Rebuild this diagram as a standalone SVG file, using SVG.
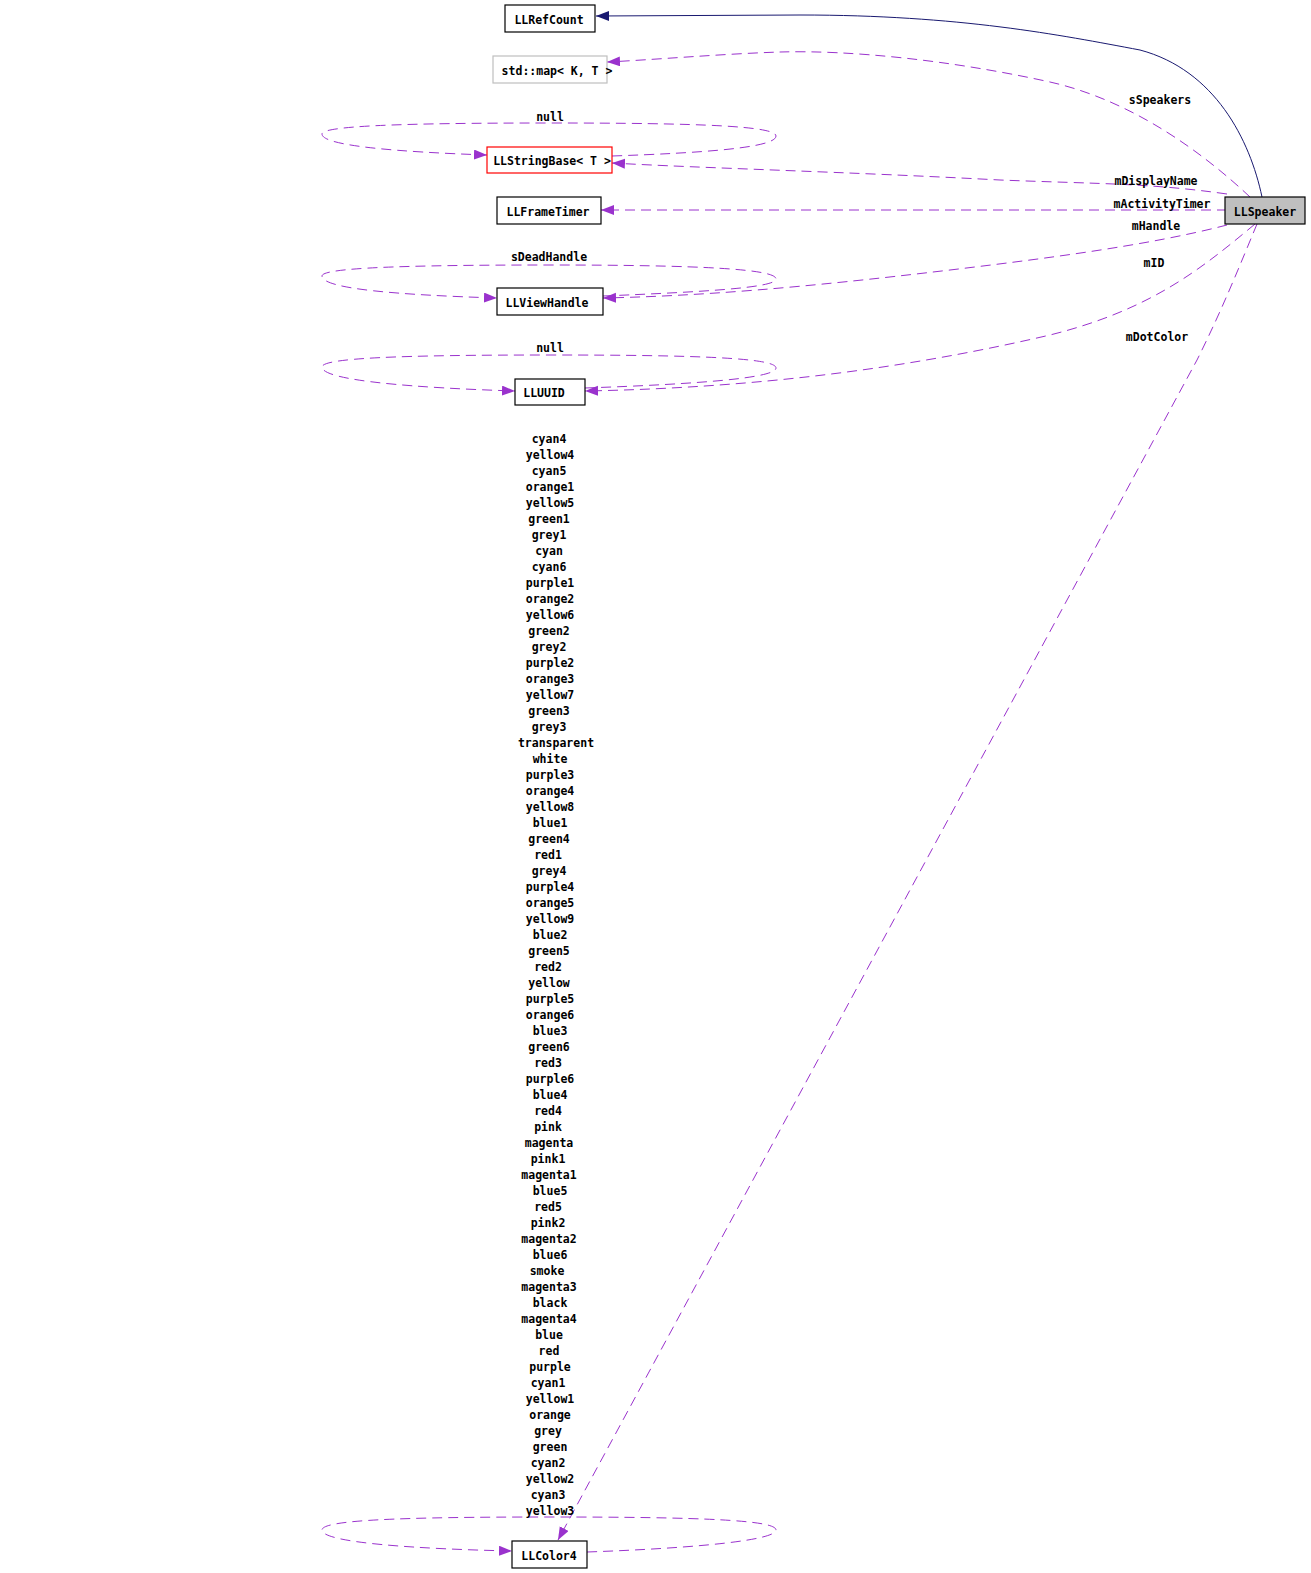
<svg xmlns="http://www.w3.org/2000/svg" width="1311" height="1573" viewBox="0 0 1311 1573">
<style>
text{font-family:"DejaVu Sans Mono","Liberation Mono",monospace;font-weight:bold;font-size:11.5px;fill:#000;text-anchor:middle}
.node rect{fill:#fff;stroke:#000;stroke-width:1.2}
.e{fill:none;stroke:#9a32cd;stroke-width:1;stroke-dasharray:10,6;marker-end:url(#ap)}
.s{fill:none;stroke:#191970;stroke-width:1;marker-end:url(#an)}
</style>
<defs>
<marker id="ap" markerUnits="userSpaceOnUse" markerWidth="14" markerHeight="11" refX="13" refY="5" orient="auto"><path d="M0,0 L13,5 L0,10 z" fill="#9a32cd"/></marker>
<marker id="an" markerUnits="userSpaceOnUse" markerWidth="14" markerHeight="11" refX="13" refY="5" orient="auto"><path d="M0,0 L13,5 L0,10 z" fill="#191970"/></marker>
</defs>
<rect width="1311" height="1573" fill="#fff"/>
<g id="edges">
<path class="s" d="M1262,197 C1250,140 1215,70 1140,50 C1060,35 960,15 800,15 L596,16"/>
<path class="e" d="M1250,197 C1200,150 1130,100 1050,82 C950,60 850,50 780,52 C720,54 650,60 607,62"/>
<path class="e" d="M1227,194 C1150,183 1100,184 1000,180 C850,172 700,168 612,163"/>
<path class="e" d="M1227,210 L601,210"/>
<path class="e" d="M1227,225 C1150,245 1050,258 950,270 C800,288 700,296 603,298"/>
<path class="e" d="M1255,224 C1200,270 1150,310 1050,335 C900,370 750,388 585,391"/>
<path class="e" d="M1257,224 C1240,265 1222,310 1197,360 L558,1540"/>
<path class="e" d="M612,156 C700,153 776,148 776,136 C776,126 700,123 550,123 C400,123 322,126 322,134 C322,146 400,152 487,155"/>
<path class="e" d="M603,296 C700,292 776,288 776,279 C776,269 700,265 550,265 C400,265 322,268 322,276 C322,289 400,295 497,298"/>
<path class="e" d="M585,388 C700,384 776,378 776,368 C776,358 700,355 550,355 C400,355 322,358 322,367 C322,381 420,388 515,391"/>
<path class="e" d="M587,1552 C700,1548 776,1540 776,1530 C776,1520 700,1517 550,1517 C400,1517 322,1520 322,1530 C322,1543 420,1549 512,1551"/>
<text x="1160" y="104">sSpeakers</text>
<text x="1156" y="185">mDisplayName</text>
<text x="1162" y="208">mActivityTimer</text>
<text x="1156" y="230">mHandle</text>
<text x="1154" y="267">mID</text>
<text x="1157" y="341">mDotColor</text>
<text x="550" y="121">null</text>
<text x="549" y="261">sDeadHandle</text>
<text x="550" y="352">null</text>
<g id="colors">
<text x="549" y="443">cyan4</text>
<text x="550" y="459">yellow4</text>
<text x="549" y="475">cyan5</text>
<text x="550" y="491">orange1</text>
<text x="550" y="507">yellow5</text>
<text x="549" y="523">green1</text>
<text x="549" y="539">grey1</text>
<text x="549" y="555">cyan</text>
<text x="549" y="571">cyan6</text>
<text x="550" y="587">purple1</text>
<text x="550" y="603">orange2</text>
<text x="550" y="619">yellow6</text>
<text x="549" y="635">green2</text>
<text x="549" y="651">grey2</text>
<text x="550" y="667">purple2</text>
<text x="550" y="683">orange3</text>
<text x="550" y="699">yellow7</text>
<text x="549" y="715">green3</text>
<text x="549" y="731">grey3</text>
<text x="556" y="747">transparent</text>
<text x="550" y="763">white</text>
<text x="550" y="779">purple3</text>
<text x="550" y="795">orange4</text>
<text x="550" y="811">yellow8</text>
<text x="550" y="827">blue1</text>
<text x="549" y="843">green4</text>
<text x="548" y="859">red1</text>
<text x="549" y="875">grey4</text>
<text x="550" y="891">purple4</text>
<text x="550" y="907">orange5</text>
<text x="550" y="923">yellow9</text>
<text x="550" y="939">blue2</text>
<text x="549" y="955">green5</text>
<text x="548" y="971">red2</text>
<text x="549" y="987">yellow</text>
<text x="550" y="1003">purple5</text>
<text x="550" y="1019">orange6</text>
<text x="550" y="1035">blue3</text>
<text x="549" y="1051">green6</text>
<text x="548" y="1067">red3</text>
<text x="550" y="1083">purple6</text>
<text x="550" y="1099">blue4</text>
<text x="548" y="1115">red4</text>
<text x="548" y="1131">pink</text>
<text x="549" y="1147">magenta</text>
<text x="548" y="1163">pink1</text>
<text x="549" y="1179">magenta1</text>
<text x="550" y="1195">blue5</text>
<text x="548" y="1211">red5</text>
<text x="548" y="1227">pink2</text>
<text x="549" y="1243">magenta2</text>
<text x="550" y="1259">blue6</text>
<text x="547" y="1275">smoke</text>
<text x="549" y="1291">magenta3</text>
<text x="550" y="1307">black</text>
<text x="549" y="1323">magenta4</text>
<text x="549" y="1339">blue</text>
<text x="549" y="1355">red</text>
<text x="550" y="1371">purple</text>
<text x="548" y="1387">cyan1</text>
<text x="550" y="1403">yellow1</text>
<text x="550" y="1419">orange</text>
<text x="548" y="1435">grey</text>
<text x="550" y="1451">green</text>
<text x="548" y="1467">cyan2</text>
<text x="550" y="1483">yellow2</text>
<text x="548" y="1499">cyan3</text>
<text x="550" y="1515">yellow3</text>
</g>
</g>
<g id="LLSpeaker" class="node"><rect x="1225" y="197" width="80" height="27" style="fill:#bfbfbf"/><text x="1265" y="216">LLSpeaker</text></g>
<g id="LLRefCount" class="node"><rect x="505" y="5" width="90" height="27"/><text x="549" y="24">LLRefCount</text></g>
<g id="stdmap" class="node"><rect x="493" y="56" width="114" height="27" style="stroke:#bfbfbf"/><text x="557" y="75">std::map&lt; K, T &gt;</text></g>
<g id="LLStringBase" class="node"><rect x="487" y="147" width="125" height="26" style="stroke:#ff0000"/><text x="552" y="165">LLStringBase&lt; T &gt;</text></g>
<g id="LLFrameTimer" class="node"><rect x="497" y="197" width="104" height="27"/><text x="548" y="216">LLFrameTimer</text></g>
<g id="LLViewHandle" class="node"><rect x="497" y="288" width="106" height="27"/><text x="547" y="307">LLViewHandle</text></g>
<g id="LLUUID" class="node"><rect x="515" y="379" width="70" height="26"/><text x="544" y="397">LLUUID</text></g>
<g id="LLColor4" class="node"><rect x="512" y="1541" width="75" height="27"/><text x="549" y="1560">LLColor4</text></g>
</svg>
